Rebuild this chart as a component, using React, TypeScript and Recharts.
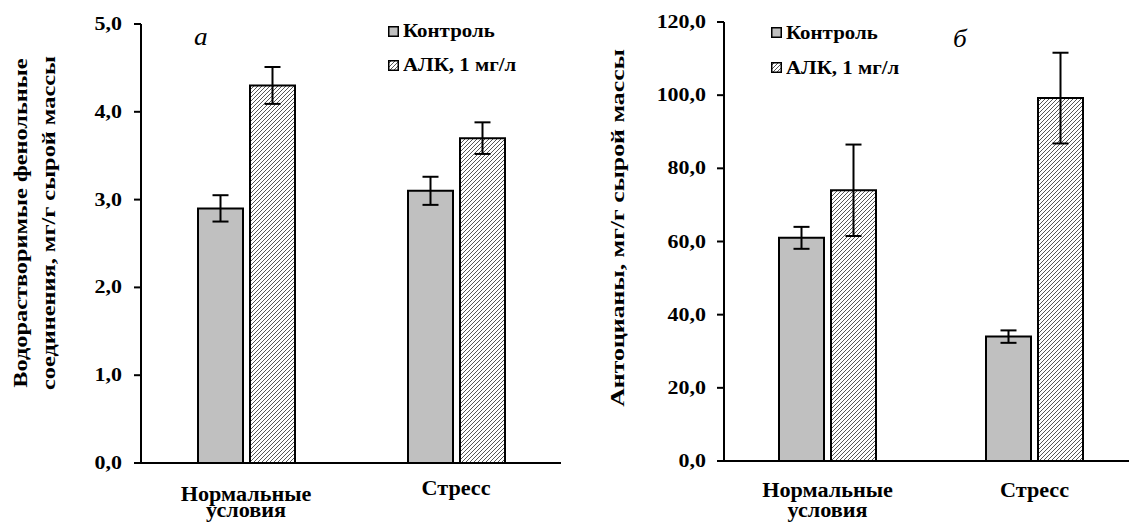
import React from 'react';
import {
  BarChart, Bar, XAxis, YAxis, ErrorBar, Legend, Customized,
} from 'recharts';

const categories = ['Нормальные условия', 'Стресс'];

const phenolControl = [2.9, 3.1];
const phenolControlErr = [0.15, 0.16];
const phenolAlk = [4.3, 3.7];
const phenolAlkErr = [0.21, 0.18];
const phenolTicks = [0, 1, 2, 3, 4, 5];

const anthControl = [61.0, 34.0];
const anthControlErr = [3.0, 1.7];
const anthAlk = [74.0, 99.2];
const anthAlkErr = [12.5, 12.4];
const anthTicks = [0, 20, 40, 60, 80, 100, 120];

const seriesNames = ['Контроль', 'АЛК, 1 мг/л'];

const FONT = '"Liberation Serif", "Times New Roman", serif';
const GREY = '#c0c0c0';

const buildRows = (ctrl: number[], ctrlErr: number[], alk: number[], alkErr: number[]) =>
  categories.map((name, i) => ({
    name,
    ctrl: ctrl[i],
    ctrlErr: ctrlErr[i],
    alk: alk[i],
    alkErr: alkErr[i],
  }));

const phenolData = buildRows(phenolControl, phenolControlErr, phenolAlk, phenolAlkErr);
const anthData = buildRows(anthControl, anthControlErr, anthAlk, anthAlkErr);

const fmt = (v: number) => v.toFixed(1).replace('.', ',');

// the source picture is stretched sideways, so texts get a horizontal scale
function SText({ x, y, size = 18, sx = 1.22, anchor = 'middle', rotate = 0, italic = false, bold = true, children }: any) {
  return (
    <text
      transform={`translate(${x},${y}) rotate(${rotate}) scale(${sx},1)`}
      textAnchor={anchor}
      fontFamily={FONT}
      fontSize={size}
      fontWeight={bold ? 700 : 400}
      fontStyle={italic ? 'italic' : 'normal'}
      fill="#000"
    >
      {children}
    </text>
  );
}

const YTick = ({ x, y, payload }: any) => (
  <SText x={x} y={y + 6} anchor="end">{fmt(payload.value)}</SText>
);

const makeXTick = (two: [number, number], one: number) => ({ x, y, payload }: any) => {
  const lines = String(payload.value).split(' ');
  if (lines.length === 1) {
    return <SText x={x} y={y + one} size={20} sx={1.11}>{lines[0]}</SText>;
  }
  return (
    <g>
      <SText x={x} y={y + two[0]} size={20} sx={1.11}>{lines[0]}</SText>
      <SText x={x} y={y + two[1]} size={20} sx={1.11}>{lines[1]}</SText>
    </g>
  );
};

const makeLegend = (rowH: number) => () => (
  <div style={{ fontFamily: FONT, fontWeight: 700, fontSize: 19, color: '#000' }}>
    {seriesNames.map((s, i) => (
      <div key={s} style={{ display: 'flex', alignItems: 'center', height: rowH, whiteSpace: 'nowrap' }}>
        <svg width={11} height={11} style={{ display: 'block' }}>
          <rect x={0.75} y={0.75} width={9.5} height={9.5} fill={i === 0 ? GREY : 'url(#hatch)'} stroke="#000" strokeWidth={1.5} />
        </svg>
        <span style={{ marginLeft: 4, display: 'inline-block', transform: 'scaleX(1.1)', transformOrigin: 'left center' }}>{s}</span>
      </div>
    ))}
  </div>
);

const axisStroke = { stroke: '#000', strokeWidth: 2 };

export default function App() {
  return (
    <div style={{ position: 'fixed', left: 0, top: 0, width: 1129, height: 524, overflow: 'hidden', background: '#fff' }}>
      <svg width={0} height={0} style={{ position: 'absolute' }}>
        <defs>
          <pattern id="hatch" patternUnits="userSpaceOnUse" width={4} height={4}>
            <rect width={4} height={4} fill="#fff" />
            <path d="M-1,1 l2,-2 M0,4 l4,-4 M3,5 l2,-2" stroke="#444" strokeWidth={0.9} />
          </pattern>
        </defs>
      </svg>

      {/* а — phenolic compounds */}
      <div style={{ position: 'absolute', left: 0, top: 0 }}>
        <BarChart width={580} height={524} data={phenolData} margin={{ top: 24, right: 19, left: 0, bottom: 0 }} barSize={45} barGap={7}>
          <XAxis dataKey="name" height={61} tickLine={false} axisLine={axisStroke} tick={makeXTick([30, 46], 24)} interval={0} />
          <YAxis width={141} domain={[0, 5]} ticks={phenolTicks} tickSize={7} tickMargin={12} tickLine={axisStroke} axisLine={axisStroke} tick={<YTick />} />
          <Legend layout="vertical" align="center" verticalAlign="middle" content={makeLegend(34)} wrapperStyle={{ left: 388, top: 14, width: 'auto', height: 'auto' }} />
          <Bar dataKey="ctrl" name={seriesNames[0]} fill={GREY} stroke="#000" strokeWidth={2} isAnimationActive={false}>
            <ErrorBar dataKey="ctrlErr" width={8} stroke="#000" strokeWidth={2} />
          </Bar>
          <Bar dataKey="alk" name={seriesNames[1]} fill="url(#hatch)" stroke="#000" strokeWidth={2} isAnimationActive={false}>
            <ErrorBar dataKey="alkErr" width={8} stroke="#000" strokeWidth={2} />
          </Bar>
          <Customized component={() => (
            <g>
              <SText x={194} y={45} size={26} sx={1.05} anchor="start" italic bold={false}>а</SText>
              <SText x={27} y={223} size={19} sx={1.28} rotate={-90}>Водорастворимые фенольные</SText>
              <SText x={55} y={223} size={19} sx={1.28} rotate={-90}>соединения, мг/г сырой массы</SText>
            </g>
          )} />
        </BarChart>
      </div>

      {/* б — anthocyanins */}
      <div style={{ position: 'absolute', left: 580, top: 0 }}>
        <BarChart width={560} height={524} data={anthData} margin={{ top: 22, right: 2, left: 0, bottom: 0 }} barSize={45} barGap={7}>
          <XAxis dataKey="name" height={63} tickLine={false} axisLine={axisStroke} tick={makeXTick([28, 48], 28)} interval={0} />
          <YAxis width={144} domain={[0, 120]} ticks={anthTicks} tickSize={7} tickMargin={11} tickLine={axisStroke} axisLine={axisStroke} tick={<YTick />} />
          <Legend layout="vertical" align="center" verticalAlign="middle" content={makeLegend(35)} wrapperStyle={{ left: 191, top: 15, width: 'auto', height: 'auto' }} />
          <Bar dataKey="ctrl" name={seriesNames[0]} fill={GREY} stroke="#000" strokeWidth={2} isAnimationActive={false}>
            <ErrorBar dataKey="ctrlErr" width={8} stroke="#000" strokeWidth={2} />
          </Bar>
          <Bar dataKey="alk" name={seriesNames[1]} fill="url(#hatch)" stroke="#000" strokeWidth={2} isAnimationActive={false}>
            <ErrorBar dataKey="alkErr" width={8} stroke="#000" strokeWidth={2} />
          </Bar>
          <Customized component={() => (
            <g>
              <SText x={373} y={47} size={26} sx={1.05} anchor="start" italic bold={false}>б</SText>
              <SText x={44} y={228} size={19} sx={1.36} rotate={-90}>Антоцианы, мг/г сырой массы</SText>
            </g>
          )} />
        </BarChart>
      </div>
    </div>
  );
}
